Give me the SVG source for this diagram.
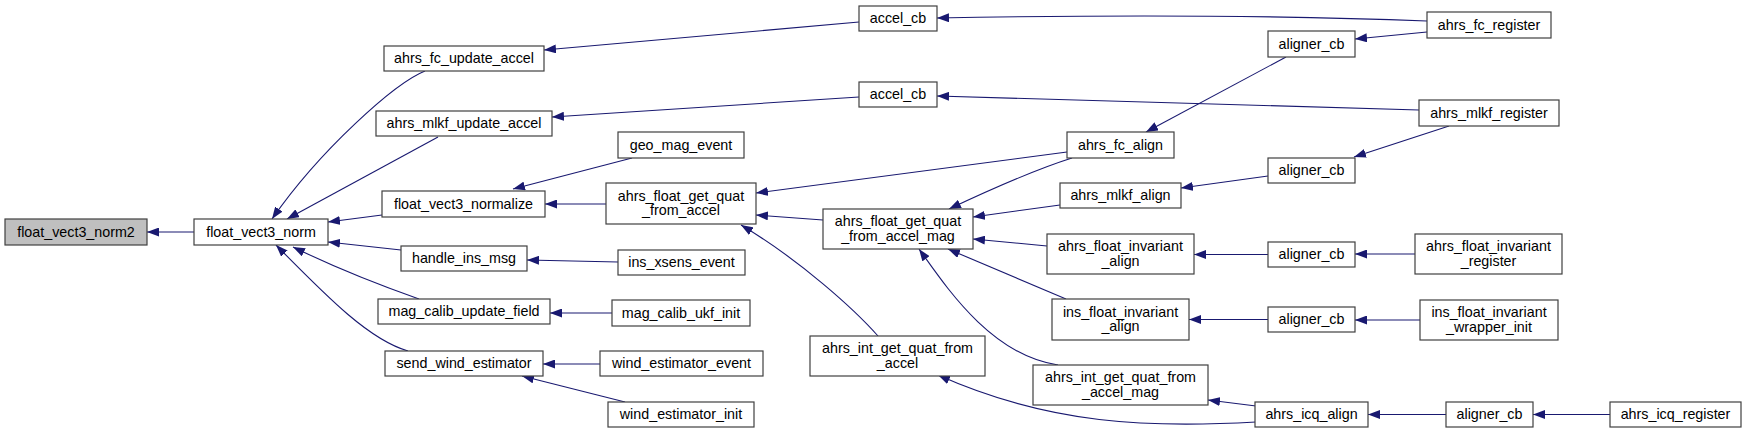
<svg xmlns="http://www.w3.org/2000/svg" width="1747" height="434" viewBox="0 0 1747 434">
<style>
.n rect{fill:#fff;stroke:#404040;stroke-width:1.2}
.n.hl rect{fill:#bfbfbf}
.n text{font-family:"Liberation Sans",Arial,sans-serif;font-size:14.3px;fill:#000;text-anchor:middle}
#edges path{fill:none;stroke:#191970;stroke-width:1.1;marker-end:url(#ah)}
</style>
<defs>
<marker id="ah" markerUnits="userSpaceOnUse" markerWidth="12" markerHeight="9" refX="12" refY="4.5" orient="auto">
<path d="M0,0 L12,4.5 L0,9 z" fill="#191970"/>
</marker>
</defs>
<rect width="1747" height="434" fill="#fff"/>
<g id="edges">
<path d="M194,232 L147,232"/>
<path d="M425,71 C395,83 320,150 272,219"/>
<path d="M438,137 L287,219"/>
<path d="M382,215 L328,222"/>
<path d="M401,250 L328,242"/>
<path d="M419,299 C385,287 340,270 293,247"/>
<path d="M408,351 C370,340 330,300 276,245"/>
<path d="M859,22 L544,50"/>
<path d="M859,97 L552,117"/>
<path d="M1427,21 C1300,16 1150,14 937,18"/>
<path d="M1419,110 C1300,106 1150,102 937,96"/>
<path d="M1427,32 L1355,39"/>
<path d="M1286,57 L1146,132"/>
<path d="M1449,126 L1354,157"/>
<path d="M1268,176 L1181,188"/>
<path d="M632,158 L513,189"/>
<path d="M606,204 L545,204"/>
<path d="M1067,152 L756,193"/>
<path d="M823,220 L756,215"/>
<path d="M1072,158 C1040,168 1000,185 949,209"/>
<path d="M1060,205 L973,217"/>
<path d="M1047,246 L973,239"/>
<path d="M1066,299 L948,249"/>
<path d="M1058,365 C990,355 945,285 919,249"/>
<path d="M878,336 C855,310 800,260 741,225"/>
<path d="M1256,422 C1150,428 1050,425 938,375"/>
<path d="M1256,406 L1208,400"/>
<path d="M1446,414.5 L1368,414.5"/>
<path d="M1610,414.5 L1533,414.5"/>
<path d="M1268,254.5 L1194,254.5"/>
<path d="M1415,254 L1355,254"/>
<path d="M1268,319.5 L1189,319.5"/>
<path d="M1420,320 L1355,320"/>
<path d="M618,262 L527,260"/>
<path d="M612,313 L550,313"/>
<path d="M600,364 L543,364"/>
<path d="M625,402 L522,376"/>
</g>
<g id="n_norm2" class="n hl"><rect x="5" y="219" width="142" height="26"/><text x="76" y="236.5">float_vect3_norm2</text></g>
<g id="n_norm" class="n"><rect x="194" y="219" width="134" height="26"/><text x="261" y="236.5">float_vect3_norm</text></g>
<g id="n_fcupd" class="n"><rect x="384" y="46" width="160" height="25"/><text x="464" y="63">ahrs_fc_update_accel</text></g>
<g id="n_mlkfupd" class="n"><rect x="376" y="111" width="176" height="25"/><text x="464" y="128">ahrs_mlkf_update_accel</text></g>
<g id="n_normalize" class="n"><rect x="382" y="191" width="163" height="26"/><text x="463.5" y="208.5">float_vect3_normalize</text></g>
<g id="n_handle" class="n"><rect x="401" y="246" width="126" height="25"/><text x="464" y="263">handle_ins_msg</text></g>
<g id="n_magcal" class="n"><rect x="378" y="299" width="172" height="25"/><text x="464" y="316">mag_calib_update_field</text></g>
<g id="n_sendwind" class="n"><rect x="385" y="351" width="158" height="25"/><text x="464" y="368">send_wind_estimator</text></g>
<g id="n_accelcb1" class="n"><rect x="859" y="6" width="78" height="25"/><text x="898" y="23">accel_cb</text></g>
<g id="n_accelcb2" class="n"><rect x="859" y="82" width="78" height="25"/><text x="898" y="99">accel_cb</text></g>
<g id="n_geomag" class="n"><rect x="618" y="132" width="126" height="26"/><text x="681" y="149.5">geo_mag_event</text></g>
<g id="n_fqacc" class="n"><rect x="606" y="183" width="150" height="41"/><text x="681" y="200.5">ahrs_float_get_quat</text><text x="681" y="215">_from_accel</text></g>
<g id="n_insxsens" class="n"><rect x="618" y="250" width="127" height="25"/><text x="681.5" y="267">ins_xsens_event</text></g>
<g id="n_magukf" class="n"><rect x="612" y="300" width="138" height="26"/><text x="681" y="317.5">mag_calib_ukf_init</text></g>
<g id="n_windevt" class="n"><rect x="600" y="351" width="163" height="25"/><text x="681.5" y="368">wind_estimator_event</text></g>
<g id="n_windinit" class="n"><rect x="608" y="402" width="146" height="25"/><text x="681" y="419">wind_estimator_init</text></g>
<g id="n_fqaccmag" class="n"><rect x="823" y="209" width="150" height="40"/><text x="898" y="226">ahrs_float_get_quat</text><text x="898" y="240.5">_from_accel_mag</text></g>
<g id="n_iqacc" class="n"><rect x="810" y="336" width="175" height="40"/><text x="897.5" y="353">ahrs_int_get_quat_from</text><text x="897.5" y="367.5">_accel</text></g>
<g id="n_fcalign" class="n"><rect x="1067" y="132" width="107" height="26"/><text x="1120.5" y="149.5">ahrs_fc_align</text></g>
<g id="n_mlkfalign" class="n"><rect x="1060" y="183" width="121" height="25"/><text x="1120.5" y="200">ahrs_mlkf_align</text></g>
<g id="n_finvalign" class="n"><rect x="1047" y="234" width="147" height="40"/><text x="1120.5" y="251">ahrs_float_invariant</text><text x="1120.5" y="265.5">_align</text></g>
<g id="n_insinvalign" class="n"><rect x="1052" y="299" width="137" height="41"/><text x="1120.5" y="316.5">ins_float_invariant</text><text x="1120.5" y="331">_align</text></g>
<g id="n_iqaccmag" class="n"><rect x="1033" y="365" width="175" height="40"/><text x="1120.5" y="382">ahrs_int_get_quat_from</text><text x="1120.5" y="396.5">_accel_mag</text></g>
<g id="n_icqalign" class="n"><rect x="1255" y="402" width="113" height="25"/><text x="1311.5" y="419">ahrs_icq_align</text></g>
<g id="n_aligncb1" class="n"><rect x="1268" y="31" width="87" height="26"/><text x="1311.5" y="48.5">aligner_cb</text></g>
<g id="n_aligncb2" class="n"><rect x="1268" y="158" width="87" height="25"/><text x="1311.5" y="175">aligner_cb</text></g>
<g id="n_aligncb3" class="n"><rect x="1268" y="242" width="87" height="25"/><text x="1311.5" y="259">aligner_cb</text></g>
<g id="n_aligncb4" class="n"><rect x="1268" y="307" width="87" height="25"/><text x="1311.5" y="324">aligner_cb</text></g>
<g id="n_aligncb5" class="n"><rect x="1446" y="402" width="87" height="25"/><text x="1489.5" y="419">aligner_cb</text></g>
<g id="n_fcreg" class="n"><rect x="1427" y="12" width="124" height="26"/><text x="1489" y="29.5">ahrs_fc_register</text></g>
<g id="n_mlkfreg" class="n"><rect x="1419" y="100" width="140" height="26"/><text x="1489" y="117.5">ahrs_mlkf_register</text></g>
<g id="n_finvreg" class="n"><rect x="1415" y="234" width="147" height="40"/><text x="1488.5" y="251">ahrs_float_invariant</text><text x="1488.5" y="265.5">_register</text></g>
<g id="n_insinvwrap" class="n"><rect x="1420" y="300" width="138" height="40"/><text x="1489" y="317">ins_float_invariant</text><text x="1489" y="331.5">_wrapper_init</text></g>
<g id="n_icqreg" class="n"><rect x="1610" y="402" width="131" height="25"/><text x="1675.5" y="419">ahrs_icq_register</text></g>
</svg>
